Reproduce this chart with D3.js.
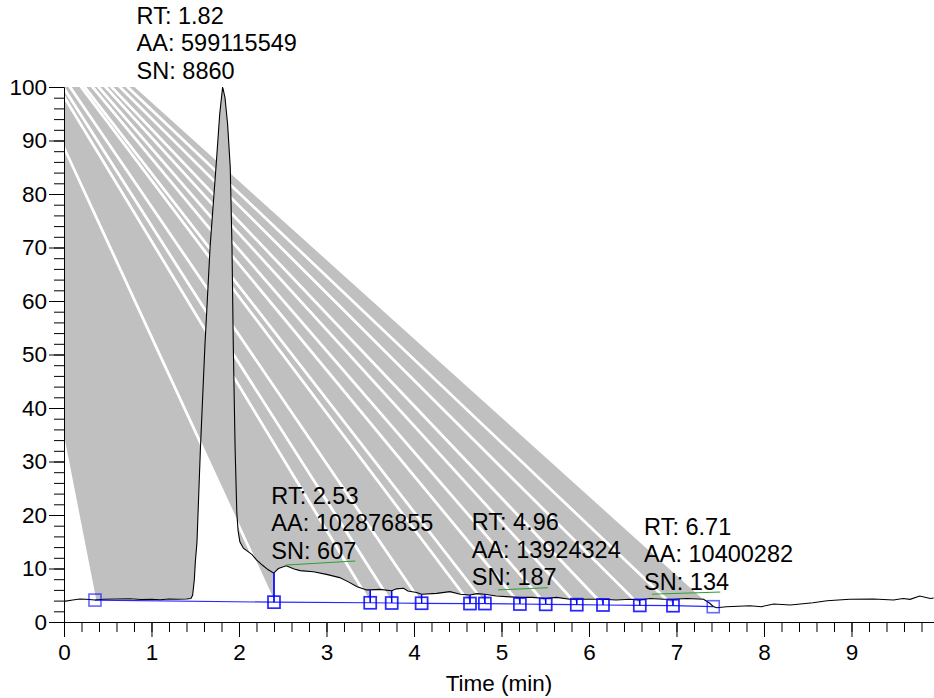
<!DOCTYPE html>
<html>
<head>
<meta charset="utf-8">
<script src="https://cdn.jsdelivr.net/npm/d3@7"></script>
<style>
    body { margin: 0; background: #fff; }
    svg text { font-family: "Liberation Sans", Arial, sans-serif; font-size: 22.5px; fill: #000; }
    svg text.peak-label { font-size: 23.5px; }
</style>
</head>
<body>
<div id="chart"></div>
<script>

// chromatogram trace (time in min, relative abundance)
const curveTime = [0.00, 0.10, 0.18, 0.25, 0.354, 0.45, 0.60, 0.75, 0.88, 1.00, 1.10, 1.20, 1.30, 1.40, 1.45,
    1.47, 1.49, 1.50, 1.52, 1.56, 1.61, 1.67, 1.74, 1.78, 1.813, 1.84, 1.87, 1.90, 1.92, 1.935, 1.955, 1.975,
    1.99, 2.01, 2.05, 2.10, 2.15, 2.20, 2.27, 2.33, 2.39, 2.40, 2.45, 2.54, 2.63, 2.70, 2.85, 3.00, 3.15, 3.25,
    3.35, 3.46, 3.50, 3.61, 3.745, 3.80, 3.88, 3.93, 4.03, 4.087, 4.26, 4.41, 4.53, 4.64, 4.72, 4.81, 4.94, 5.10,
    5.21, 5.35, 5.505, 5.63, 5.78, 5.86, 6.01, 6.16, 6.31, 6.47, 6.58, 6.70, 6.85, 6.96, 7.12, 7.31, 7.38, 7.42,
    7.46, 7.57, 7.84, 7.97, 8.11, 8.30, 8.56, 8.72, 8.98, 9.25, 9.48, 9.59, 9.67, 9.78, 9.90, 9.94];
const curveIntensity = [3.85, 4.1, 4.3, 4.25, 4.1, 4.25, 4.3, 4.35, 4.2, 4.25, 4.15, 4.3, 4.25, 4.3, 4.4,
    5.0, 8.0, 11.0, 15.0, 32.8, 51.5, 70.2, 85.7, 95.0, 100.0, 98.0, 93.0, 85.0, 70.0, 51.5, 32.8, 20.4,
    17.0, 15.0, 13.8, 13.2, 12.6, 11.6, 10.6, 9.8, 9.2, 9.2, 10.0, 10.5, 9.9, 9.6, 9.4, 8.9, 8.3, 7.5,
    6.6, 6.0, 6.0, 6.1, 5.85, 6.2, 6.3, 5.8, 5.5, 5.2, 5.35, 5.67, 5.2, 5.05, 5.3, 5.2, 4.86, 4.7,
    4.6, 4.6, 4.4, 4.6, 4.24, 4.24, 4.24, 4.24, 4.1, 4.24, 4.1, 4.4, 4.24, 4.24, 4.4, 4.24, 3.5, 2.9,
    2.67, 2.86, 3.05, 2.86, 3.36, 3.18, 3.6, 3.98, 4.24, 4.3, 4.1, 4.4, 4.24, 4.86, 4.4, 4.5];

// peak boundaries (blue squares) and their baseline level
const boundaryTime = [0.354, 2.40, 3.50, 3.745, 4.087, 4.64, 4.81, 5.21, 5.505, 5.86, 6.16, 6.58, 6.96, 7.42];
const boundaryBase = [4.1, 3.7, 3.6, 3.55, 3.5, 3.45, 3.45, 3.36, 3.3, 3.24, 3.18, 3.1, 3.05, 2.86];

// stray vertex shared by the peak area fills (outside the plot, top left)
const fillAnchor = [-1.14, 129];

// peak annotations
const labelRT = ["1.82", "2.53", "4.96", "6.71"];
const labelAA = ["599115549", "102876855", "13924324", "10400282"];
const labelSN = ["8860", "607", "187", "134"];
const labelX = [0.83, 2.37, 4.66, 6.63];
const labelY = [101.5, 11.8, 6.9, 6.0];

// noise segments (green)
const noiseX0 = [2.54, 4.96, 6.72];
const noiseY0 = [10.65, 6.0, 5.2];
const noiseX1 = [3.33, 5.53, 7.50];
const noiseY1 = [11.4, 6.4, 5.6];

const xTicks = [0, 1, 2, 3, 4, 5, 6, 7, 8, 9];
const yTicks = [0, 10, 20, 30, 40, 50, 60, 70, 80, 90, 100];

const margin = { top: 87, right: 0, bottom: 76, left: 64 };
const width = 934 - margin.left - margin.right,
    height = 698 - margin.top - margin.bottom;

const svg = d3.select("#chart").append("svg")
    .attr("width", width + margin.left + margin.right)
    .attr("height", height + margin.top + margin.bottom);
const g = svg.append("g")
    .attr("transform", "translate(" + margin.left + "," + margin.top + ")");

const x = d3.scaleLinear().domain([0, 9.943]).range([0, width]);
const y = d3.scaleLinear().domain([0, 100]).range([height, 0]);

const curve = curveTime.map((t, i) => [t, curveIntensity[i]]);
const bisect = d3.bisector(d => d[0]).left;
function curveAt(t) {
    let i = bisect(curve, t);
    if (i <= 0) return curve[0][1];
    if (i >= curve.length) return curve[curve.length - 1][1];
    let a = curve[i - 1], b = curve[i];
    if (b[0] === a[0]) return b[1];
    return a[1] + (b[1] - a[1]) * (t - a[0]) / (b[0] - a[0]);
}

const peaks = d3.range(boundaryTime.length - 1).map(i => ({
    s: boundaryTime[i], e: boundaryTime[i + 1],
    bs: boundaryBase[i], be: boundaryBase[i + 1]
}));

g.append("clipPath").attr("id", "plotClip")
    .append("rect").attr("width", width).attr("height", height);

const line = d3.line().x(d => x(d[0])).y(d => y(d[1]));

// peak area fills, drawn last peak first
const fills = g.append("g").attr("clip-path", "url(#plotClip)");
peaks.slice().reverse().forEach(p => {
    let pts = [fillAnchor, [p.s, p.bs], [p.s, curveAt(p.s)]]
        .concat(curve.filter(c => c[0] > p.s && c[0] < p.e))
        .concat([[p.e, curveAt(p.e)], [p.e, p.be]]);
    fills.append("path")
        .attr("d", line(pts) + "Z")
        .attr("fill", "#c0c0c0")
        .attr("fill-rule", "evenodd");
    [[p.s, p.bs], [p.e, p.be]].forEach(q => {
        fills.append("path")
            .attr("d", line([q, fillAnchor]))
            .attr("stroke", "#fff")
            .attr("stroke-width", 2.6)
            .attr("fill", "none");
    });
});

// trace
g.append("path")
    .attr("d", line(curve))
    .attr("fill", "none")
    .attr("stroke", "#000")
    .attr("stroke-width", 1.1);

// baselines, drop lines and boundary markers
peaks.forEach(p => {
    g.append("path")
        .attr("d", line([[p.s, p.bs], [p.e, p.be]]))
        .attr("stroke", "#0000ff").attr("stroke-opacity", 0.85)
        .attr("stroke-width", 1.2).attr("fill", "none");
    [[p.s, p.bs], [p.e, p.be]].forEach(q => {
        g.append("path")
            .attr("d", line([q, [q[0], curveAt(q[0])]]))
            .attr("stroke", "#0000ff").attr("stroke-width", 1.2).attr("fill", "none");
        g.append("rect")
            .attr("x", x(q[0]) - 6).attr("y", y(q[1]) - 6)
            .attr("width", 12).attr("height", 12)
            .attr("fill", "none")
            .attr("stroke", "#0000ff").attr("stroke-opacity", 0.6)
            .attr("stroke-width", 1.6);
    });
});

// noise segments
noiseX0.forEach((d, i) => {
    g.append("line")
        .attr("x1", x(d)).attr("y1", y(noiseY0[i]))
        .attr("x2", x(noiseX1[i])).attr("y2", y(noiseY1[i]))
        .attr("stroke", "#2ca02c").attr("stroke-width", 1);
});

// annotations
labelRT.forEach((d, i) => {
    let t = g.append("text")
        .attr("class", "peak-label")
        .attr("x", x(labelX[i]))
        .attr("y", y(labelY[i]));
    let lines = ["RT: " + d, "AA: " + labelAA[i], "SN: " + labelSN[i]];
    lines.forEach((s, j) => {
        t.append("tspan")
            .attr("x", x(labelX[i]))
            .attr("dy", j === 0 ? -55 : 27.5)
            .text(s);
    });
});

// axes
const yAxis = d3.axisLeft(y).tickValues(yTicks).tickSize(15).tickSizeOuter(0).tickPadding(2);
const yMinor = d3.axisLeft(y).tickValues(d3.range(0, 101, 2)).tickSize(10).tickSizeOuter(0).tickFormat("");
const xAxis = d3.axisBottom(x).tickValues(xTicks).tickSize(15).tickSizeOuter(0).tickPadding(2);
const xMinor = d3.axisBottom(x).tickValues(d3.range(0, 9.9, 0.2)).tickSize(10).tickSizeOuter(0).tickFormat("");

g.append("g").attr("class", "y-minor").call(yMinor);
g.append("g").attr("class", "y-axis axis").call(yAxis);
g.append("g").attr("class", "x-minor").attr("transform", "translate(0," + height + ")").call(xMinor);
g.append("g").attr("class", "x-axis axis").attr("transform", "translate(0," + height + ")").call(xAxis);

g.selectAll(".x-axis text").attr("y", 38).attr("dy", 0);
g.selectAll(".domain, .tick line").attr("stroke", "#000");
g.selectAll(".axis text").style("font-size", "22.5px").style("font-family", "Liberation Sans, Arial, sans-serif");

g.append("text")
    .attr("x", width / 2)
    .attr("y", height + 69)
    .style("text-anchor", "middle")
    .text("Time (min)");

</script>
</body>
</html>
